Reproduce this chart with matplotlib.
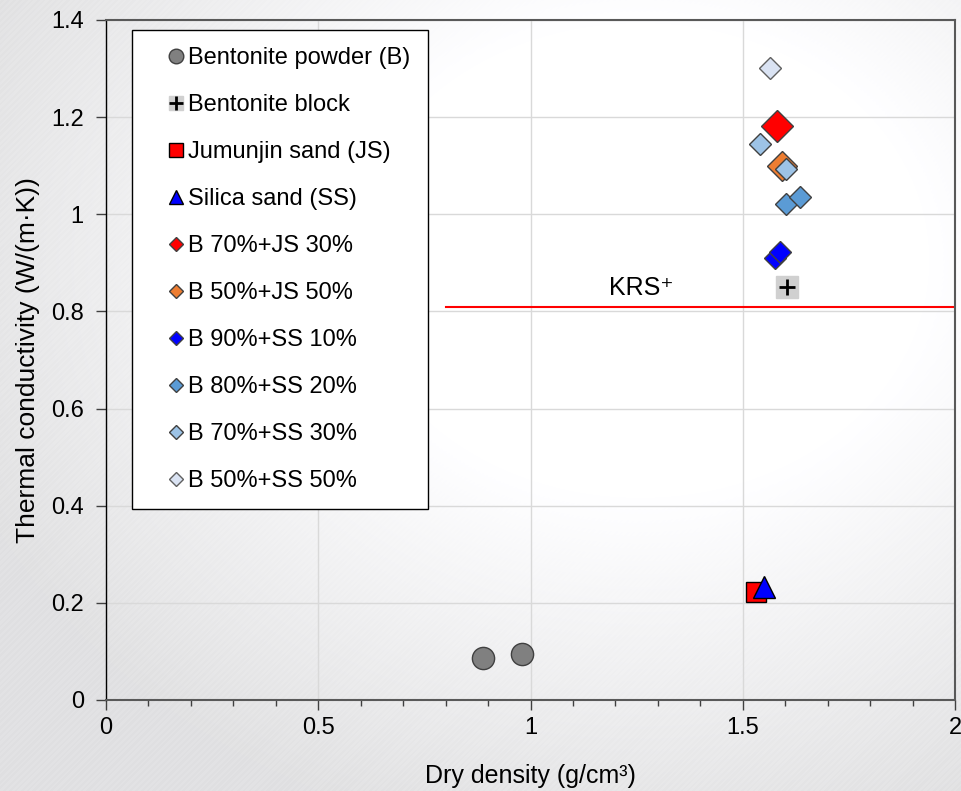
import numpy as np
import matplotlib
matplotlib.use("Agg")
import matplotlib.pyplot as plt
from matplotlib.lines import Line2D

plt.rcParams["font.family"] = ["Liberation Sans", "DejaVu Sans"]

# dry density (g/cm3) and thermal conductivity (W/(m K)) per material
powder_rho = [0.887, 0.979]
powder_k = [0.086, 0.095]
block_rho = [1.604]
block_k = [0.850]
js_rho = [1.531]
js_k = [0.222]
ss_rho = [1.549]
ss_k = [0.232]
b70js30_rho = [1.580]
b70js30_k = [1.182]
b50js50_rho = [1.592]
b50js50_k = [1.099]
b90ss10_rho = [1.575, 1.587]
b90ss10_k = [0.910, 0.922]
b80ss20_rho = [1.601, 1.634]
b80ss20_k = [1.021, 1.036]
b70ss30_rho = [1.540, 1.601]
b70ss30_k = [1.145, 1.093]
b50ss50_rho = [1.564]
b50ss50_k = [1.301]

krs_k = 0.81
krs_rho = [0.8, 2.0]

W, H = 962, 791
fig = plt.figure(figsize=(W / 100, H / 100), dpi=100)

# soft grey backdrop, lighter towards the middle, faint diagonal stripes
bg = fig.add_axes([0, 0, 1, 1], zorder=-10)
yy, xx = np.mgrid[0:H, 0:W]
r = np.hypot((xx - 640) / W, (yy - 260) / H)
shade = 1 - 0.11 * np.clip((r - 0.30) / 0.45, 0, 1)
stripes = 0.012 * (np.sin((xx + yy) * 2 * np.pi / 6) > 0)
img = shade - stripes * (1 - shade) / 0.11
bg.imshow(np.dstack([img, img, img * 1.005]).clip(0, 1), aspect="auto")
bg.axis("off")

ax = fig.add_axes([106 / W, 1 - 700 / H, (955 - 106) / W, (700 - 20) / H])
ax.patch.set_alpha(0)

edge = "#404040"
styles = {
    "Bentonite powder (B)": dict(marker="o", ms=16, mfc="#808080"),
    "Jumunjin sand (JS)": dict(marker="s", ms=15, mfc="#ff0000", mec="black"),
    "Silica sand (SS)": dict(marker="^", ms=16, mfc="#0000ff", mec="black"),
    "B 70%+JS 30%": dict(marker="D", ms=16, mfc="#ff0000"),
    "B 50%+JS 50%": dict(marker="D", ms=15, mfc="#ed7d31"),
    "B 90%+SS 10%": dict(marker="D", ms=11.5, mfc="#0000ff"),
    "B 80%+SS 20%": dict(marker="D", ms=11, mfc="#5b9bd5"),
    "B 70%+SS 30%": dict(marker="D", ms=11, mfc="#9dc3e6"),
    "B 50%+SS 50%": dict(marker="D", ms=11, mfc="#dae3f3", mec="#606060"),
}
series = {
    "Bentonite powder (B)": (powder_rho, powder_k),
    "Jumunjin sand (JS)": (js_rho, js_k),
    "Silica sand (SS)": (ss_rho, ss_k),
    "B 70%+JS 30%": (b70js30_rho, b70js30_k),
    "B 50%+JS 50%": (b50js50_rho, b50js50_k),
    "B 90%+SS 10%": (b90ss10_rho, b90ss10_k),
    "B 80%+SS 20%": (b80ss20_rho, b80ss20_k),
    "B 70%+SS 30%": (b70ss30_rho, b70ss30_k),
    "B 50%+SS 50%": (b50ss50_rho, b50ss50_k),
}

ax.plot(krs_rho, [krs_k, krs_k], color="#ff0000", lw=1.5, zorder=2)
ax.text(1.26, 0.848, "KRS⁺", fontsize=18, ha="center", va="center")

for name, (x, y) in series.items():
    st = dict(styles[name])
    st.setdefault("mec", edge)
    ax.plot(x, y, ls="none", mew=1, zorder=4, **st)

# bentonite block: grey square with a black cross on top
ax.plot(block_rho, block_k, ls="none", marker="s", ms=16, mfc="#d0d0d0",
        mec="#d0d0d0", zorder=4)
ax.plot(block_rho, block_k, ls="none", marker="+", ms=12, mew=2,
        color="black", zorder=5)

# legend proxies with smaller markers
handles, labels = [], []
order = ["Bentonite powder (B)", "Bentonite block", "Jumunjin sand (JS)",
         "Silica sand (SS)", "B 70%+JS 30%", "B 50%+JS 50%", "B 90%+SS 10%",
         "B 80%+SS 20%", "B 70%+SS 30%", "B 50%+SS 50%"]
for name in order:
    if name == "Bentonite block":
        h = (Line2D([], [], ls="none", marker="s", ms=10.5, mfc="#d0d0d0",
                    mec="#d0d0d0"),
             Line2D([], [], ls="none", marker="+", ms=10, mew=2, color="black"))
    else:
        st = dict(styles[name])
        st.setdefault("mec", edge)
        st["ms"] = 7.5 if st["marker"] == "D" else 10.5
        h = Line2D([], [], ls="none", mew=1, **st)
    handles.append(h)
    labels.append(name)

leg = ax.legend(handles, labels, loc="upper left",
                bbox_to_anchor=(0.031, 0.985), borderaxespad=0,
                fontsize=17, frameon=True, fancybox=False, framealpha=1,
                edgecolor="black", borderpad=0.72, handlelength=2.3,
                handletextpad=-0.65, labelspacing=1.06)
leg.get_frame().set_linewidth(1)
leg.set_zorder(6)

ax.set_xlim(0, 2)
ax.set_ylim(0, 1.4)
ax.set_xticks([0, 0.5, 1, 1.5, 2])
ax.set_xticklabels(["0", "0.5", "1", "1.5", "2"])
ax.set_xticks(np.arange(0, 2.01, 0.1), minor=True)
ax.set_yticks(np.arange(0, 1.41, 0.2))
ax.set_yticklabels(["0", "0.2", "0.4", "0.6", "0.8", "1", "1.2", "1.4"])
ax.grid(True, which="major", color="#d9d9d9", lw=1, zorder=0)
ax.set_axisbelow(True)

ax.tick_params(axis="both", which="major", direction="out", length=7,
               width=1, labelsize=17, color="#404040")
ax.tick_params(axis="x", which="minor", direction="out", length=4,
               width=1, color="#404040")
ax.tick_params(axis="y", pad=9)
ax.tick_params(axis="x", pad=5)

for side in ["top", "right", "bottom"]:
    ax.spines[side].set_color("#595959")
    ax.spines[side].set_linewidth(1.5)
ax.spines["left"].set_color("black")
ax.spines["left"].set_linewidth(1)

ax.set_xlabel("Dry density (g/cm³)", fontsize=18, labelpad=18)
ax.set_ylabel("Thermal conductivity (W/(m·K))", fontsize=19, labelpad=8)

fig.savefig("out.png", dpi=100)
